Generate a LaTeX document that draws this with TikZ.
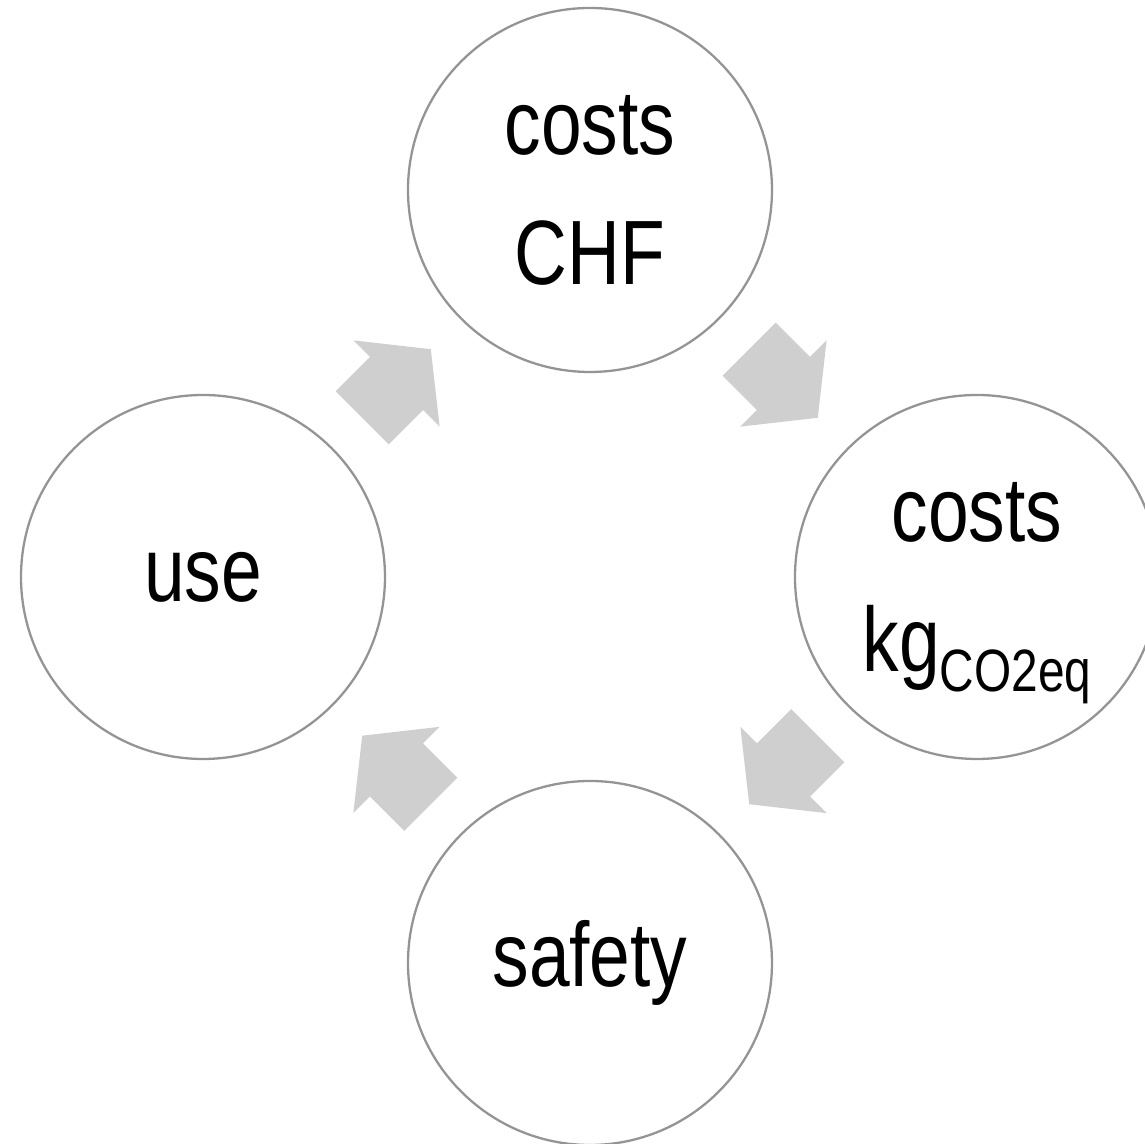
\documentclass[tikz,border=0pt]{standalone}
\usepackage{fontspec}
\setmainfont{Liberation Sans}[FakeStretch=0.8]
\usetikzlibrary{calc}
\definecolor{ringgray}{RGB}{148,148,148}
\definecolor{flowgray}{RGB}{207,207,207}
\newcommand{\lowtxt}[1]{\raisebox{-0.2cm}{\fontsize{17}{20}\selectfont #1}}

\begin{document}
\begin{tikzpicture}[x=1cm,y=1cm,
  ring/.style={circle,draw=ringgray,line width=0.65pt,fill=white,minimum size=3.64cm,align=center,font={\fontsize{26}{37}\selectfont}},
  flow/.style={fill=flowgray}]
\useasboundingbox (-5.90,-5.67) rectangle (5.55,5.77);
\node[ring] (chf) at (0,3.87) {costs\\CHF};
\node[ring] (kg) at (3.87,0) {costs\\\raisebox{0pt}[\height][0pt]{kg\lowtxt{CO2eq}}};
\node[ring] (saf) at (0,-3.86) {safety};
\node[ring] (use) at (-3.87,0) {use};
\foreach \a/\b/\r in {chf/kg/-45,kg/saf/-135,saf/use/135,use/chf/45}
{
\fill[flow,shift={($(\a)!0.5!(\b)$)},rotate=\r] (-0.485,-0.375)--(0,-0.375)--(0,-0.61)--(0.485,0)--(0,0.61)--(0,0.375)--(-0.485,0.375)--cycle;
}
\end{tikzpicture}
\end{document}
